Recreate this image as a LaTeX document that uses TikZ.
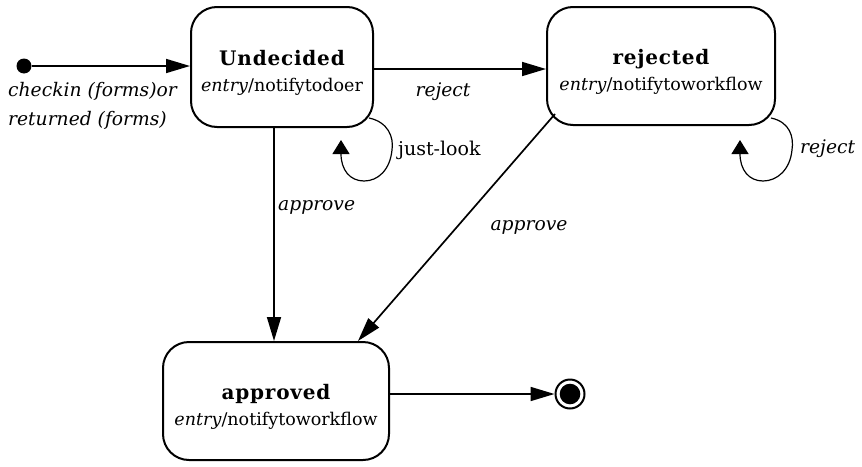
\documentclass[tikz,border=0pt]{standalone}
\usepackage{fontspec}
\setmainfont{DejaVu Serif}
\newfontfamily\namefont[LetterSpace=4]{DejaVu Serif}
\usetikzlibrary{arrows.meta,calc}

% state name: bold, slightly spaced, with a strut that pushes the text block down a little
\newcommand\stname[1]{\rule{0pt}{27pt}{\namefont\bfseries\fontsize{20}{25}\selectfont #1}}

\begin{document}
\begin{tikzpicture}[x=1pt,y=-1pt,
  state/.style={draw, line width=2pt, rounded corners=26pt, align=center,
    font=\fontsize{17.5}{26}\selectfont, inner sep=0pt},
  trans/.style={line width=1.7pt, -{Triangle[length=24pt,width=14pt]}},
  selfloop/.style={line width=1.2pt, -{Triangle[length=14pt,width=17pt]}},
  lbl/.style={font=\fontsize{18.7}{24}\selectfont\itshape, inner sep=0pt},
  plain/.style={font=\fontsize{19}{24}\selectfont, inner sep=0pt},
]
\useasboundingbox (0,0) rectangle (862,466);

% states
\node[state, minimum width=182pt, minimum height=120pt] (U) at (282,67)
  {\stname{Undecided}\\\textit{entry}/notifytodoer};
\node[state, minimum width=228pt, minimum height=118pt] (R) at (661,66)
  {\stname{rejected}\\\textit{entry}/notifytoworkflow};
\node[state, minimum width=226pt, minimum height=118pt] (A) at (276,401)
  {\stname{approved}\\\textit{entry}/notifytoworkflow};

% pseudo states
\node[circle, fill, minimum size=15pt, inner sep=0pt] (I) at (24,66) {};
\node[circle, draw, line width=2pt, minimum size=29pt, inner sep=0pt] (F) at (570,394) {};
\fill (F.center) circle (10.3pt);

% transitions
\draw[trans] (I) -- (I -| U.west);
\node[lbl, anchor=west] (l1) at (8,91) {checkin (forms)or};
\node[lbl, anchor=west] (l2) at (8,120) {returned (forms)};

\draw[trans] ($(U.east)+(0,2)$) -- ($(U.east -| R.west)+(0,2)$);
\node[lbl] (l3) at (443,92) {reject};

\draw[trans] (U.south -| 274,0) -- (A.north -| 274,0);
\node[lbl, anchor=west] (l4) at (278,207) {approve};

\draw[trans] ($(R.south west)+(9,-12)$) -- ($(A.north east)+(-32,0)$);
\node[lbl] (l5) at (529,227) {approve};

\draw[trans] (A.east |- F) -- (F.west);

% self transitions
\coordinate (Uloop) at (341,140);
\draw[selfloop] ($(U.south east)+(-5,-10)$)
  .. controls (388,122) and (394,137) .. (392,150)
  .. controls (390,170) and (378,181) .. (364,181)
  .. controls (350,181) and (341,170) .. (Uloop);
\node[plain, anchor=west] (l6) at (398,150) {just-look};

\coordinate (Rloop) at (740,140);
\draw[selfloop] ($(R.south east)+(-5,-8)$)
  .. controls (790,122) and (794,137) .. (792,150)
  .. controls (790,170) and (777,181) .. (763,181)
  .. controls (749,181) and (740,170) .. (Rloop);
\node[lbl, anchor=west] (l7) at (800,149) {reject};
\end{tikzpicture}
\end{document}
